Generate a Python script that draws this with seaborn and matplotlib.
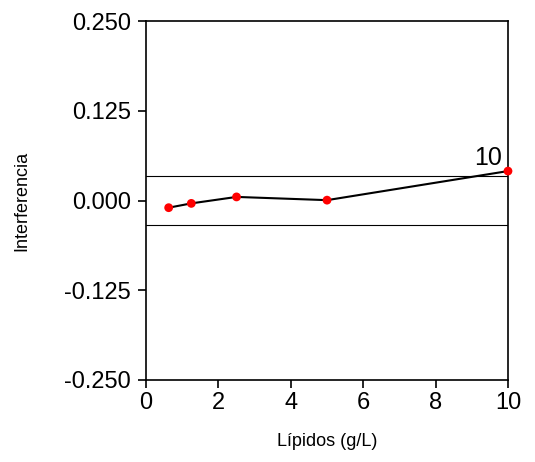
import matplotlib
matplotlib.use("Agg")
import matplotlib.pyplot as plt
import seaborn as sns
import pandas as pd

lipidos = [0.625, 1.25, 2.5, 5.0, 10.0]
interferencia = [-0.010, -0.004, 0.005, 0.0005, 0.041]
limite = 0.034
xticks = [0, 2, 4, 6, 8, 10]
yticks = [-0.250, -0.125, 0.000, 0.125, 0.250]

sns.set_style("ticks")
plt.rcParams['font.family'] = ['Liberation Sans', 'DejaVu Sans']
plt.rcParams['text.color'] = 'black'
plt.rcParams['axes.labelcolor'] = 'black'
plt.rcParams['xtick.color'] = 'black'
plt.rcParams['ytick.color'] = 'black'

df = pd.DataFrame({"Lípidos (g/L)": lipidos, "Interferencia": interferencia})

fig = plt.figure(figsize=(5.35, 4.62), dpi=100)
ax = fig.add_axes([0.273, 0.1775, 0.6765, 0.777])

ax.axhline(limite, color="black", lw=0.8, zorder=1)
ax.axhline(-limite, color="black", lw=0.8, zorder=1)
sns.lineplot(data=df, x="Lípidos (g/L)", y="Interferencia", ax=ax, color="black",
             lw=1.5, zorder=2, clip_on=False)
ax.scatter(lipidos, interferencia, color="red", s=40, zorder=3, clip_on=False, edgecolor="none")
ax.annotate("10", (lipidos[-1], interferencia[-1]), xytext=(-4, 4.5), textcoords="offset points",
            ha="right", va="baseline", fontsize=18, color="black")

ax.set_xlim(0, 10)
ax.set_ylim(-0.25, 0.25)
ax.set_xticks(xticks)
ax.set_yticks(yticks)
ax.set_yticklabels([f"{v:.3f}" for v in yticks])
ax.tick_params(axis="both", labelsize=17, direction="out", length=6, width=1.2,
               color="black", labelcolor="black")
ax.tick_params(axis="y", pad=5)
ax.tick_params(axis="x", pad=3)
for s in ax.spines.values():
    s.set_linewidth(1.2)
    s.set_color("black")
ax.set_xlabel("Lípidos (g/L)", fontsize=13, labelpad=13, color="black")
ax.set_ylabel("Interferencia", fontsize=13, labelpad=24, color="black")

fig.savefig("out.png", dpi=100)
